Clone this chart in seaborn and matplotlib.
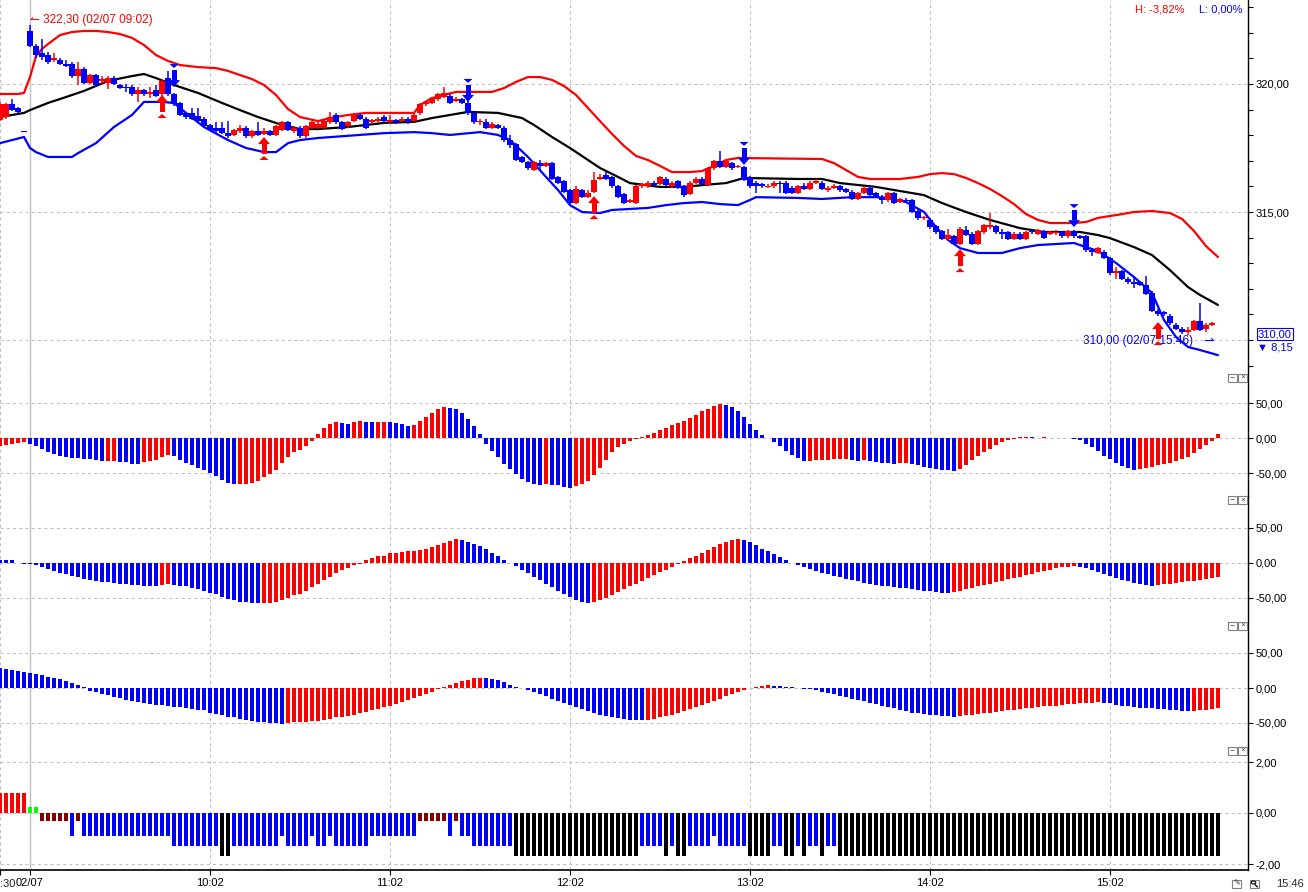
import numpy as np
import pandas as pd
import matplotlib
matplotlib.use("Agg")
import matplotlib.pyplot as plt
import matplotlib.transforms as mtransforms
from matplotlib.patches import Polygon, Rectangle, Circle
from matplotlib.lines import Line2D
import seaborn as sns

W, H = 1308, 892
RED, BLUE, DARKRED, GREEN = "#ff0000", "#0000ff", "#800000", "#00ff00"
GRID = "#c0c0c0"
DASH = (0, (3, 3))

# ---- 2-minute candles, 02/07 (bar index k, 09:02 = k 5) ----
opens = [
    318.60, 318.70, 319.20, 319.05, 318.15, 322.05, 321.50, 321.20, 321.15, 320.95,
    320.95, 320.80, 320.80, 320.30, 320.60, 320.05, 320.35, 320.10, 320.05, 320.25,
    319.95, 319.90, 319.90, 319.60, 319.75, 319.60, 319.75, 319.60, 320.25, 319.60,
    319.25, 318.85, 318.85, 318.75, 318.65, 318.40, 318.30, 318.30, 318.10, 318.00,
    318.15, 318.30, 317.95, 318.15, 318.05, 318.15, 318.00, 318.20, 318.50, 318.15,
    318.30, 317.95, 318.30, 318.30, 318.30, 318.50, 318.80, 318.50, 318.35, 318.55,
    318.80, 318.65, 318.50, 318.55, 318.70, 318.50, 318.60, 318.55, 318.65, 318.55,
    318.85, 319.20, 319.25, 319.40, 319.50, 319.55, 319.35, 319.40, 319.25, 318.85,
    318.50, 318.50, 318.30, 318.40, 318.30, 317.80, 317.65, 317.15, 316.95, 316.65,
    316.90, 316.80, 316.90, 316.35, 316.20, 315.85, 315.35, 315.85, 315.60, 315.80,
    316.30, 316.45, 316.35, 316.00, 315.70, 315.40, 315.35, 316.00, 316.00, 316.15,
    316.10, 316.30, 316.00, 316.20, 316.00, 315.70, 316.15, 316.30, 316.05, 316.70,
    317.00, 316.75, 316.90, 316.75, 316.75, 316.35, 316.15, 316.10, 315.98, 316.00,
    316.15, 316.15, 315.95, 315.75, 316.00, 315.90, 316.15, 316.15, 315.88, 315.95,
    316.00, 315.90, 315.80, 315.50, 315.75, 315.95, 315.75, 315.60, 315.45, 315.75,
    315.40, 315.47, 315.45, 315.05, 314.75, 314.70, 314.45, 314.25, 313.95, 314.05,
    313.75, 314.30, 314.15, 313.75, 314.20, 314.40, 314.45, 314.20, 314.20, 313.95,
    314.15, 313.95, 314.25, 314.15, 314.25, 314.15, 314.20, 314.20, 314.05, 314.25,
    314.05, 314.05, 313.50, 313.40, 313.45, 313.20, 312.62, 312.70, 312.40, 312.25,
    312.25, 312.15, 311.85, 311.15, 311.10, 310.95, 310.60, 310.45, 310.33, 310.40,
    310.75, 310.45, 310.60,
]
highs = [
    319.30, 319.25, 319.40, 319.10, 318.15, 322.30, 321.55, 321.75, 321.25, 321.20,
    321.00, 320.95, 320.85, 320.85, 320.65, 320.40, 320.40, 320.30, 320.30, 320.30,
    320.00, 320.00, 319.95, 319.90, 319.80, 319.90, 319.95, 320.15, 320.50, 319.65,
    319.30, 318.90, 319.05, 319.05, 318.70, 318.45, 318.50, 318.50, 318.55, 318.25,
    318.40, 318.35, 318.20, 318.50, 318.30, 318.20, 318.40, 318.55, 318.55, 318.35,
    318.35, 318.40, 318.55, 318.50, 318.60, 318.90, 318.85, 318.55, 318.55, 318.85,
    318.85, 318.70, 318.65, 318.70, 318.80, 318.80, 318.65, 318.70, 318.70, 318.85,
    319.25, 319.35, 319.50, 319.65, 319.90, 319.60, 319.50, 319.45, 319.35, 318.90,
    318.65, 318.65, 318.50, 318.45, 318.35, 318.00, 317.70, 317.20, 317.00, 317.00,
    317.05, 316.95, 316.95, 316.40, 316.25, 315.90, 316.00, 315.90, 315.85, 316.55,
    316.50, 316.55, 316.40, 316.05, 315.75, 315.50, 316.05, 316.15, 316.20, 316.20,
    316.40, 316.35, 316.20, 316.25, 316.05, 316.20, 316.35, 316.35, 316.75, 317.05,
    317.40, 317.05, 316.95, 316.85, 316.80, 316.40, 316.20, 316.15, 316.10, 316.20,
    316.20, 316.20, 316.00, 316.05, 316.15, 316.20, 316.30, 316.20, 316.00, 316.10,
    316.05, 315.95, 315.85, 315.80, 316.00, 316.00, 315.80, 315.65, 315.80, 315.80,
    315.55, 315.55, 315.50, 315.10, 314.85, 314.75, 314.50, 314.30, 314.35, 314.10,
    314.40, 314.45, 314.20, 314.30, 314.55, 314.95, 314.50, 314.35, 314.25, 314.20,
    314.20, 314.25, 314.30, 314.35, 314.30, 314.25, 314.30, 314.25, 314.30, 314.30,
    314.10, 314.10, 313.60, 313.65, 313.50, 313.25, 312.85, 312.75, 312.45, 312.50,
    312.30, 312.50, 311.90, 311.20, 311.15, 311.00, 310.65, 310.50, 310.50, 310.80,
    311.45, 310.65, 310.70,
]
lows = [
    318.55, 318.65, 318.95, 318.85, 318.15, 321.45, 321.00, 320.95, 320.80, 320.85,
    320.75, 320.65, 320.25, 319.95, 320.00, 320.00, 319.90, 319.95, 319.80, 319.95,
    319.80, 319.70, 319.55, 319.30, 319.55, 319.45, 319.50, 319.55, 319.55, 319.15,
    318.75, 318.65, 318.60, 318.50, 318.30, 318.15, 318.10, 318.05, 317.90, 317.95,
    318.10, 317.90, 317.90, 317.95, 318.00, 317.95, 317.95, 318.15, 318.15, 318.10,
    317.90, 317.90, 318.25, 318.25, 318.25, 318.45, 318.45, 318.20, 318.30, 318.50,
    318.60, 318.25, 318.45, 318.50, 318.50, 318.45, 318.45, 318.50, 318.45, 318.50,
    318.80, 319.15, 319.20, 319.35, 319.45, 319.20, 319.30, 319.20, 318.80, 318.45,
    318.40, 318.25, 318.25, 318.25, 317.75, 317.50, 317.00, 316.90, 316.65, 316.60,
    316.65, 316.75, 316.25, 316.10, 315.75, 315.30, 315.30, 315.55, 315.55, 315.75,
    316.25, 316.25, 315.95, 315.55, 315.30, 315.35, 315.30, 315.95, 315.95, 316.00,
    316.05, 316.00, 315.95, 315.90, 315.60, 315.65, 316.10, 316.05, 316.00, 316.65,
    316.70, 316.70, 316.65, 316.70, 316.20, 315.95, 315.75, 315.95, 315.95, 315.95,
    315.75, 315.70, 315.70, 315.70, 315.85, 315.85, 316.10, 315.85, 315.80, 315.90,
    315.80, 315.75, 315.45, 315.45, 315.70, 315.60, 315.55, 315.30, 315.40, 315.30,
    315.35, 315.35, 314.95, 314.70, 314.70, 314.35, 314.15, 313.90, 313.90, 313.70,
    313.70, 314.05, 313.70, 313.70, 314.15, 314.35, 314.15, 313.95, 313.90, 313.90,
    313.90, 313.90, 314.15, 314.10, 313.95, 314.10, 314.10, 314.00, 314.00, 314.00,
    313.95, 313.45, 313.30, 313.35, 313.15, 312.55, 312.40, 312.35, 312.20, 312.05,
    312.10, 311.75, 311.10, 310.95, 310.95, 310.60, 310.40, 310.25, 310.20, 310.35,
    310.35, 310.30, 310.55,
]
closes = [
    319.20, 319.20, 319.00, 318.90, 318.15, 321.50, 321.15, 321.05, 320.85, 321.00,
    320.80, 320.70, 320.30, 320.60, 320.05, 320.35, 319.95, 320.20, 320.25, 320.00,
    319.85, 319.85, 319.60, 319.75, 319.60, 319.70, 319.55, 320.10, 319.60, 319.20,
    318.80, 318.70, 318.65, 318.55, 318.35, 318.20, 318.15, 318.10, 317.95, 318.20,
    318.30, 317.95, 318.15, 318.00, 318.15, 318.00, 318.35, 318.50, 318.20, 318.30,
    317.95, 318.35, 318.50, 318.45, 318.55, 318.70, 318.50, 318.25, 318.50, 318.80,
    318.65, 318.30, 318.60, 318.65, 318.55, 318.60, 318.50, 318.65, 318.50, 318.80,
    319.20, 319.30, 319.45, 319.60, 319.65, 319.25, 319.40, 319.25, 318.85, 318.50,
    318.55, 318.30, 318.45, 318.30, 317.80, 317.60, 317.05, 316.95, 316.70, 316.95,
    316.80, 316.90, 316.30, 316.15, 315.80, 315.35, 315.90, 315.60, 315.75, 316.25,
    316.35, 316.30, 316.00, 315.60, 315.35, 315.45, 316.00, 316.10, 316.15, 316.05,
    316.35, 316.05, 316.15, 315.95, 315.65, 316.15, 316.30, 316.10, 316.70, 317.00,
    316.75, 317.00, 316.70, 316.80, 316.25, 316.00, 316.00, 316.00, 316.02, 316.15,
    316.10, 315.75, 315.75, 316.00, 315.90, 316.15, 316.20, 315.90, 315.92, 316.00,
    315.85, 315.80, 315.50, 315.75, 315.95, 315.65, 315.60, 315.45, 315.75, 315.35,
    315.50, 315.43, 315.00, 314.75, 314.80, 314.40, 314.20, 313.95, 314.10, 313.75,
    314.35, 314.10, 313.75, 314.25, 314.50, 314.50, 314.20, 314.15, 313.95, 314.15,
    313.95, 314.20, 314.20, 314.30, 314.00, 314.20, 314.22, 314.05, 314.25, 314.05,
    314.00, 313.50, 313.45, 313.60, 313.20, 312.60, 312.68, 312.40, 312.25, 312.20,
    312.15, 311.80, 311.15, 311.00, 311.00, 310.65, 310.45, 310.30, 310.37, 310.75,
    310.40, 310.60, 310.65,
]

# ---- envelope lines (read at bar index k) ----
upper_k = [0, 3, 4, 5, 6, 7, 8, 10, 12, 14, 16, 18, 20, 22, 24, 26, 28, 30, 33, 36,
           38, 40, 42, 44, 46, 48, 50, 53, 55, 58, 61, 65, 69, 70, 72, 74, 76, 82, 84, 86,
           88, 90, 92, 94, 96, 98, 100, 102, 104, 106, 108, 110, 112, 115, 117, 119, 121, 123, 137, 139,
           141, 143, 145, 150, 153, 155, 157, 159, 161, 163, 165, 167, 169, 171, 173, 175, 179, 181, 183, 186,
           189, 192, 195, 197, 199, 201, 203]
upper_v = [319.61, 319.61, 319.65, 320.27, 321.09, 321.37, 321.56, 321.91, 322.03, 322.07,
           322.07, 322.03, 321.95, 321.80, 321.52, 321.13, 320.90, 320.74, 320.66, 320.62,
           320.51, 320.35, 320.19, 319.96, 319.57, 319.02, 318.71, 318.55, 318.67, 318.79,
           318.87, 318.87, 318.87, 319.18, 319.45, 319.57, 319.69, 319.69, 319.84, 320.08,
           320.27, 320.27, 320.16, 319.92, 319.57, 319.06, 318.55, 318.05, 317.58, 317.19,
           317.03, 316.80, 316.56, 316.56, 316.60, 316.80, 317.03, 317.11, 317.07, 316.91,
           316.64, 316.37, 316.29, 316.29, 316.37, 316.48, 316.52, 316.48, 316.33, 316.13,
           315.90, 315.62, 315.31, 314.92, 314.69, 314.57, 314.57, 314.61, 314.77, 314.88,
           315.00, 315.04, 314.96, 314.73, 314.26, 313.67, 313.24]
mid_k = [0, 4, 5, 8, 11, 14, 18, 22, 24, 26, 29, 33, 37, 40, 43, 47, 50, 53, 58, 64,
         69, 72, 75, 78, 83, 87, 89, 92, 95, 98, 100, 103, 105, 110, 114, 117, 121, 124, 133, 137,
         140, 146, 151, 154, 157, 161, 165, 170, 174, 180, 183, 185, 189, 192, 195, 198, 200, 203]
mid_v = [318.71, 318.87, 318.98, 319.26, 319.49, 319.73, 320.12, 320.31, 320.39, 320.23,
         319.96, 319.65, 319.26, 318.98, 318.71, 318.40, 318.24, 318.24, 318.32, 318.48,
         318.52, 318.67, 318.79, 318.91, 318.87, 318.67, 318.40, 317.93, 317.50, 317.03,
         316.72, 316.37, 316.13, 315.98, 315.98, 316.05, 316.13, 316.33, 316.29, 316.29,
         316.13, 315.98, 315.78, 315.66, 315.35, 315.00, 314.69, 314.37, 314.22, 314.22,
         314.10, 313.98, 313.63, 313.32, 312.73, 312.07, 311.76, 311.37]
lower_k = [0, 2, 4, 5, 6, 8, 12, 13, 16, 19, 22, 24, 27, 29, 31, 34, 38, 41, 44, 46,
           48, 50, 53, 64, 69, 72, 75, 80, 83, 85, 88, 91, 93, 95, 97, 100, 102, 105, 108, 111,
           114, 117, 120, 123, 125, 126, 133, 137, 142, 146, 148, 151, 154, 156, 158, 160, 163, 167, 170, 173,
           179, 181, 183, 186, 189, 192, 194, 196, 198, 200, 203]
lower_v = [317.69, 317.81, 317.93, 317.50, 317.34, 317.15, 317.15, 317.30, 317.69, 318.32,
           318.79, 319.30, 319.30, 319.26, 318.87, 318.32, 317.81, 317.50, 317.34, 317.34,
           317.69, 317.81, 317.89, 318.08, 318.12, 318.08, 318.01, 318.12, 318.01, 317.81,
           317.15, 316.37, 315.86, 315.27, 315.00, 314.96, 315.08, 315.12, 315.16, 315.27,
           315.35, 315.39, 315.31, 315.27, 315.47, 315.58, 315.55, 315.51, 315.58, 315.58,
           315.55, 315.39, 315.00, 314.41, 313.91, 313.59, 313.40, 313.40, 313.59, 313.71,
           313.79, 313.63, 313.48, 313.01, 312.46, 311.84, 310.78, 310.12, 309.73, 309.61,
           309.41]

# buy / sell signal arrows: bar index and tip price
buy_k = [27, 44, 99, 160, 193]
buy_tip = [319.57, 317.93, 315.62, 313.55, 310.70]
sell_k = [29, 78, 124, 179]
sell_tip = [319.88, 319.30, 316.84, 314.41]

# ---- oscillator histograms ----
osc1 = [
    -11.4, -10.4, -9.0, -7.6, -6.2, -9.0, -11.8, -16.1, -20.4, -23.2,
    -25.1, -26.5, -28.0, -28.4, -30.3, -30.6, -31.8, -33.4, -33.2, -33.0,
    -34.6, -34.8, -37.4, -37.6, -34.6, -33.2, -31.8, -27.5, -24.6, -26.1,
    -31.8, -36.0, -38.9, -43.1, -46.0, -50.2, -54.5, -60.2, -64.5, -65.9,
    -65.7, -65.5, -64.5, -61.6, -55.9, -51.7, -46.0, -36.0, -27.5, -20.4,
    -17.5, -11.8, -4.7, 6.2, 14.7, 20.4, 23.2, 21.8, 20.4, 23.2,
    24.6, 23.2, 23.0, 23.2, 23.4, 23.2, 21.8, 20.4, 17.5, 19.0,
    24.6, 30.3, 36.0, 41.7, 44.5, 43.1, 41.7, 36.0, 27.5, 17.5,
    6.2, -9.0, -19.0, -27.5, -37.4, -44.5, -51.7, -58.8, -63.0, -65.9,
    -67.3, -65.9, -67.3, -67.5, -70.1, -71.6, -68.7, -65.9, -61.6, -53.1,
    -43.1, -31.8, -20.0, -13.0, -8.0, -4.5, -2.0, 1.0, 4.0, 7.0,
    11.0, 15.0, 18.0, 21.0, 24.0, 28.0, 33.0, 38.0, 42.0, 46.0,
    48.0, 47.0, 44.0, 38.0, 30.0, 20.0, 12.0, 5.0, 0.0, -5.0,
    -12.0, -18.0, -24.0, -29.0, -33.0, -32.5, -32.0, -31.5, -31.0, -30.5,
    -30.0, -29.5, -31.0, -33.0, -32.0, -33.0, -34.0, -35.0, -36.0, -37.0,
    -36.0, -35.5, -37.0, -39.0, -41.0, -43.0, -44.0, -45.0, -46.0, -47.0,
    -44.0, -38.0, -32.0, -26.0, -20.0, -15.0, -10.0, -6.0, -3.0, -1.0,
    1.0, 1.5, 1.0, 0.5, 1.0, 0.5, 0.0, 0.5, 0.0, -1.0,
    -3.0, -8.0, -13.0, -19.0, -25.0, -30.0, -35.0, -40.0, -43.0, -45.0,
    -44.0, -43.0, -41.0, -39.0, -37.0, -35.0, -32.5, -30.0, -27.0, -21.0,
    -16.0, -10.0, -4.0, 6.0,
]
osc2 = [
    3, 3, 3, -1, -1.5, -2, -3, -6, -9, -12,
    -15, -17, -19, -21, -24, -25, -27, -28, -28, -29,
    -30, -30, -32, -32, -33, -33, -34, -32, -31, -32,
    -33, -34, -36, -38, -40, -43, -45, -49, -52, -54,
    -56, -57, -58, -58.5, -58.2, -57.8, -56, -54, -50, -46,
    -45, -41, -35, -30, -25, -20, -15, -11, -8, -3,
    -2, 3, 6, 9, 10, 13, 14, 15, 16, 16.5,
    18, 20, 22, 25, 28, 31, 33, 32, 30, 27,
    23, 19, 14, 9, 4, 0, -5, -10, -15, -20,
    -25, -30, -35, -40, -45, -49, -53, -56, -58, -57,
    -54, -50, -46, -42, -38, -34, -30, -26, -22, -18,
    -14, -10, -6, -2, 2, 6, 10, 14, 18, 22,
    26, 30, 32, 33.5, 32, 29, 25, 20, 16, 12,
    8, 4, 0, -3, -6, -9, -12, -15, -17, -19,
    -21, -23, -25, -27, -29, -30, -32, -33, -34, -35,
    -36, -37, -38, -39, -40, -41, -42, -43, -43.5, -42,
    -40, -38, -36, -34, -32, -30, -28, -26, -24, -22,
    -20, -18, -16, -14, -12, -10, -8, -7, -6, -5,
    -6, -8, -10, -13, -16, -19, -22, -25, -27, -29,
    -31, -32, -33, -32, -31, -30, -29, -28, -27, -26,
    -25, -24, -22, -20,
]
osc3 = [
    28.6, 27.7, 26, 25, 23.5, 22, 20.6, 18, 16.4, 13.6,
    12.2, 9.4, 6.6, 5, 1.4, -4.2, -5.6, -8.5, -10, -12.7,
    -14, -17, -18, -20, -21, -22.5, -24, -24.2, -25, -27,
    -27.2, -28, -29.6, -31, -32, -35, -36.6, -38, -41, -42,
    -43.7, -45, -46.5, -48, -49, -49.3, -50.7, -50.8, -50.7, -49,
    -48.8, -48, -47.8, -46.5, -45, -43.7, -42, -41, -39.4, -38,
    -35, -33.8, -31, -29.6, -26.8, -25, -22.5, -19.7, -17, -14,
    -11, -8, -5, -2, 1, 4, 7, 10, 12, 14,
    15, 14.5, 13, 11, 8, 5, 2, 0, -3, -6,
    -9, -12, -15, -18, -21, -24, -27, -30, -33, -36,
    -38, -40, -42, -43, -44, -45, -45.5, -46, -45, -44,
    -42, -40, -38, -36, -33, -30, -27, -24, -21, -18,
    -15, -12, -9, -6, -3, 0, 2, 3, 4, 3.5,
    3, 2, 1, 0, -1, -2, -3, -5, -7, -9,
    -11, -13, -15, -17, -19, -21, -23, -25, -27, -29,
    -31, -33, -35, -36, -37, -38, -39, -40, -40.5, -41,
    -40, -39, -38, -37, -36, -35, -34, -33, -32, -31,
    -30, -29, -28, -27, -26, -25.5, -25, -24, -23.5, -23,
    -22, -21.5, -21, -20.5, -21, -22, -24, -25, -26, -27,
    -28, -28.5, -29, -29.5, -30, -31, -32, -33, -33.5, -32.8,
    -32, -31.5, -30.5, -29,
]

# signal-state panel: runs of (state, number of bars)
state_runs = [("R", 5), ("G", 2), ("D", 5), ("S", 1), ("D", 1), ("S", 15), ("L", 8), ("K", 2),
              ("L", 8), ("S", 1), ("L", 4), ("S", 1), ("L", 2), ("S", 1), ("L", 6), ("S", 8),
              ("D", 5), ("S", 1), ("D", 1), ("S", 2), ("L", 7), ("K", 21), ("L", 4), ("K", 1),
              ("L", 1), ("K", 2), ("L", 4), ("S", 1), ("L", 5), ("K", 4), ("L", 2), ("K", 2),
              ("L", 1), ("K", 1), ("L", 2), ("K", 1), ("L", 2), ("K", 64)]
state_level = {"R": 0.8, "G": 0.25, "D": -0.3, "S": -0.9, "L": -1.3, "K": -1.7}
state_color = {"R": RED, "G": GREEN, "D": DARKRED, "S": BLUE, "L": BLUE, "K": "black"}

time_k = [0, 5, 35, 65, 95, 125, 155, 185]
time_labels = ["", "02/07", "10:02", "11:02", "12:02", "13:02", "14:02", "15:02"]

# ---------- figure ----------
sns.set_style("white")
plt.rcParams["font.family"] = ["Liberation Sans", "DejaVu Sans"]
plt.rcParams["font.size"] = 8

fig = plt.figure(figsize=(W / 100, H / 100), dpi=100)


def panel(top, bottom):
    return fig.add_axes([0, 1 - bottom / H, 1248 / W, (bottom - top) / H])


def style(ax, ylim, ticks, labels, grid_vals):
    ax.set_xlim(0, 208)
    ax.set_ylim(*ylim)
    for s in ["left", "top", "bottom"]:
        ax.spines[s].set_visible(False)
    ax.spines["right"].set_color("black")
    ax.spines["right"].set_linewidth(1.0)
    ax.yaxis.tick_right()
    ax.set_yticks(ticks)
    ax.set_yticklabels(labels)
    ax.tick_params(axis="y", direction="out", length=3.6, width=0.8, pad=2,
                   labelsize=8, right=True, left=False, colors="black")
    ax.set_xticks([])
    for v in grid_vals:
        ax.axhline(v, color=GRID, lw=0.75, ls=DASH, zorder=0)
    for k in time_k:
        if k == 5:
            ax.axvline(k, color=GRID, lw=1.0, zorder=0)
        else:
            ax.axvline(k, color=GRID, lw=0.75, ls=DASH, zorder=0)


def signal_arrow(ax, k, tip, up, color):
    s = 1 if up else -1
    shapes = [
        [(0, 0), (-6, -7 * s), (6, -7 * s)],
        [(-2.5, -7 * s), (2.5, -7 * s), (2.5, -17 * s), (-2.5, -17 * s)],
        [(0, -19 * s), (-4.5, -23 * s), (4.5, -23 * s)],
    ]
    trans = mtransforms.Affine2D() + mtransforms.ScaledTranslation(k, tip, ax.transData)
    for pts in shapes:
        ax.add_patch(Polygon(pts, closed=True, fc=color, ec="none",
                             transform=trans, zorder=5, clip_on=False))


def osc_colors(vals):
    v = np.asarray(vals, float)
    up = np.r_[v[1] > v[0], v[1:] > v[:-1]]
    return np.where(up, RED, BLUE)


# ---- main price panel ----
ax_main = panel(0, 370)
main_ticks = list(range(309, 324))
main_labels = ["320,00" if t == 320 else "315,00" if t == 315 else "" for t in main_ticks]
style(ax_main, (308.83, 323.28), main_ticks, main_labels, [310, 315, 320])

sns.lineplot(x=upper_k, y=upper_v, ax=ax_main, color=RED, lw=1.6, zorder=2)
sns.lineplot(x=mid_k, y=mid_v, ax=ax_main, color="black", lw=1.6, zorder=2)
sns.lineplot(x=lower_k, y=lower_v, ax=ax_main, color=BLUE, lw=1.6, zorder=2)

ohlc = pd.DataFrame({"open": opens, "high": highs, "low": lows, "close": closes})
ohlc["k"] = np.arange(len(ohlc))
ccol = np.where(ohlc["close"] > ohlc["open"], RED, BLUE)
ax_main.vlines(ohlc["k"], ohlc["low"], ohlc["high"], colors=ccol, lw=1.1, zorder=3)
body_h = (ohlc["close"] - ohlc["open"]).abs()
body_lo = ohlc[["open", "close"]].min(axis=1) - (0.05 - body_h).clip(lower=0) / 2
ax_main.bar(ohlc["k"], body_h.clip(lower=0.05), bottom=body_lo, width=0.88,
            color=ccol, lw=0, zorder=3, antialiased=False)

for k, p in zip(buy_k, buy_tip):
    signal_arrow(ax_main, k, p, True, RED)
for k, p in zip(sell_k, sell_tip):
    signal_arrow(ax_main, k, p, False, BLUE)
ax_main.set_xlim(0, 208)
ax_main.set_ylim(308.83, 323.28)

ax_main.text(5, 322.50, "\u21bc 322,30 (02/07 09:02)", color=RED, fontsize=8.5,
             ha="left", va="center")
ax_main.text(180.5, 309.96, "310,00 (02/07 15:46)", color=BLUE, fontsize=8.5,
             ha="left", va="center")
ax_main.text(200.5, 309.93, "\u21c0", color=BLUE, fontsize=9, ha="left", va="center")

# ---- oscillator panels ----
for top, bottom, zero, vals in [(370, 496, 438, osc1), (496, 621, 562.5, osc2),
                                (621, 746, 688, osc3)]:
    ax = panel(top, bottom)
    ylim = (-(bottom - zero) / 0.7, (zero - top) / 0.7)
    style(ax, ylim, [50, 0, -50], ["50,00", "0,00", "-50,00"], [50, 0, -50])
    ax.bar(np.arange(len(vals)), vals, width=0.68, color=osc_colors(vals), lw=0,
           zorder=3, antialiased=False)

# ---- state panel ----
ax4 = panel(746, 870)
style(ax4, (-(870 - 813) / 25.5, (813 - 746) / 25.5), [2, 0, -2],
      ["2,00", "0,00", "-2,00"], [2, 0, -2])
states = [s for s, n in state_runs for _ in range(n)]
ax4.bar(np.arange(len(states)), [state_level[s] for s in states], width=0.68,
        color=[state_color[s] for s in states], lw=0, zorder=3, antialiased=False)
ax4.spines["bottom"].set_visible(True)
ax4.spines["bottom"].set_color("black")
ax4.spines["bottom"].set_linewidth(1.2)
ax4.set_xticks(time_k)
ax4.set_xticklabels(time_labels)
ax4.tick_params(axis="x", direction="out", length=3.6, width=0.8, pad=2,
                labelsize=8, bottom=True, colors="black")


# ---- decorations in pixel coordinates ----
def ftxt(x, y, s, **kw):
    fig.text(x / W, 1 - y / H, s, **kw)


ftxt(0, 884, ":30", ha="left", va="center", fontsize=8)
ftxt(1135, 9, "H: -3,82%", color=RED, ha="left", va="center", fontsize=8)
ftxt(1199, 9, "L: 0,00%", color=BLUE, ha="left", va="center", fontsize=8)
ftxt(1258, 334, "310,00", color=BLUE, ha="left", va="center", fontsize=8,
     bbox=dict(boxstyle="square,pad=0.1", fc="white", ec=BLUE, lw=0.8))
ftxt(1257, 348, "\u25bc 8,15", color=BLUE, ha="left", va="center", fontsize=8)
ftxt(1290, 884, "15:46", ha="center", va="center", fontsize=8)


def button(x, y, glyph=None):
    fig.add_artist(Rectangle((x / W, 1 - (y + 4) / H), 9 / W, 8 / H, transform=fig.transFigure,
                             fc="white", ec="#808080", lw=0.8))
    if glyph:
        ftxt(x + 4.5, y, glyph, ha="center", va="center", fontsize=6, color="#404040")


for yb in [377.5, 500, 625.5, 750.5]:
    button(1228, yb, "\u2212")
    button(1238, yb, "\u00d7")

# edit and zoom icons at the bottom right
button(1232, 884, "\u270e")
button(1250, 884)
fig.add_artist(Circle((1253.5 / W, 1 - 882.5 / H), 2.2 / W, transform=fig.transFigure,
                      fill=False, ec="black", lw=0.8))
fig.add_artist(Line2D([1255 / W, 1257.5 / W], [1 - 884.5 / H, 1 - 887 / H],
                      transform=fig.transFigure, color="black", lw=0.9))

fig.savefig("out.png", dpi=100)
